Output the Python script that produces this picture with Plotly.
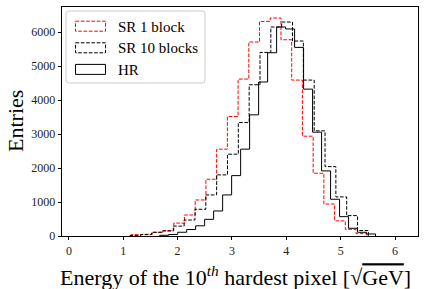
import numpy as np
import plotly.graph_objects as go

# ---------------- data ----------------
series_names = ["SR 1 block", "SR 10 blocks", "HR"]

# SR 1 block: 22 bins between these limits
sr1_range = [1.14, 5.48]
sr1_counts = [40, 50, 110, 160, 380, 618, 1060, 1670, 2554, 3514, 4616,
              5706, 6312, 6412, 5773, 4586, 2936, 1846, 940, 445, 197, 70]

# SR 10 blocks: 22 bins between these limits
sr10_range = [1.123, 5.51]
sr10_counts = [15, 40, 109, 147, 290, 470, 786, 1208, 1797, 2406, 3337,
               4448, 5400, 6147, 6294, 5735, 4586, 3093, 2041, 1150, 600, 160]

# HR: 24 bins between these limits
hr_range = [1.67, 5.642]
hr_counts = [20, 45, 110, 190, 300, 490, 736, 1208, 1776, 2554, 3564, 4530,
             5390, 6147, 6090, 5548, 4320, 3054, 1915, 1081, 569, 227, 109, 60]

x_ticks = [0, 1, 2, 3, 4, 5, 6]
y_ticks = [0, 1000, 2000, 3000, 4000, 5000, 6000]

x_title = ("Energy of the 10<sup><i>th</i></sup> hardest pixel "
           "[√<span style='text-decoration:overline'>GeV</span>]")
y_title = "Entries"

# ---------------- styling ----------------
W, H = 425, 289
ML, MR, MT, MB = 62, 7, 7, 53
PW, PH = W - ML - MR, H - MT - MB
FONT = "Liberation Serif"
DASH = "3.7px,1.6px"

styles = [
    dict(color="#ff0000", dash=DASH),
    dict(color="#000000", dash=DASH),
    dict(color="#000000", dash="solid"),
]


def step_xy(rng, counts):
    edges = np.linspace(rng[0], rng[1], len(counts) + 1)
    xs = [edges[0]] + list(edges[:-1]) + [edges[-1]]
    ys = [0] + list(counts) + [0]
    return xs, ys


fig = go.Figure()
for name, rng, counts, st in zip(series_names,
                                 [sr1_range, sr10_range, hr_range],
                                 [sr1_counts, sr10_counts, hr_counts],
                                 styles):
    xs, ys = step_xy(rng, counts)
    fig.add_trace(go.Scatter(
        x=xs, y=ys, mode="lines", name=name, showlegend=False,
        line=dict(shape="hv", color=st["color"], dash=st["dash"], width=1),
    ))


# ---------------- custom legend (matplotlib-like patch handles) ----------------
def px_x(p):
    return (p - ML) / PW


def px_y(p):
    return 1 - (p - MT) / PH


shapes = []
fx0, fx1, fy0, fy1, r = 66, 205, 11, 83, 3
path = (f"M{px_x(fx0 + r)},{px_y(fy0)} L{px_x(fx1 - r)},{px_y(fy0)} "
        f"Q{px_x(fx1)},{px_y(fy0)} {px_x(fx1)},{px_y(fy0 + r)} "
        f"L{px_x(fx1)},{px_y(fy1 - r)} "
        f"Q{px_x(fx1)},{px_y(fy1)} {px_x(fx1 - r)},{px_y(fy1)} "
        f"L{px_x(fx0 + r)},{px_y(fy1)} "
        f"Q{px_x(fx0)},{px_y(fy1)} {px_x(fx0)},{px_y(fy1 - r)} "
        f"L{px_x(fx0)},{px_y(fy0 + r)} "
        f"Q{px_x(fx0)},{px_y(fy0)} {px_x(fx0 + r)},{px_y(fy0)} Z")
shapes.append(dict(type="path", xref="paper", yref="paper", path=path,
                   line=dict(color="#cccccc", width=1),
                   fillcolor="rgba(255,255,255,0.8)", layer="above"))

rows = [26.2, 47.8, 69.4]
annotations = []
for name, st, yc in zip(series_names, styles, rows):
    shapes.append(dict(type="rect", xref="paper", yref="paper",
                       x0=px_x(75.5), x1=px_x(105.5),
                       y0=px_y(yc - 5), y1=px_y(yc + 5),
                       line=dict(color=st["color"], width=1, dash=st["dash"]),
                       fillcolor="rgba(0,0,0,0)", layer="above"))
    annotations.append(dict(text=name, xref="paper", yref="paper",
                            x=px_x(116), y=px_y(yc + 0.5), xanchor="left",
                            yanchor="middle", showarrow=False,
                            font=dict(family=FONT, size=15, color="#000")))

# axis titles
annotations.append(dict(text=x_title, xref="paper", yref="paper",
                        x=px_x(235.5), y=px_y(275.5), xanchor="center",
                        yanchor="middle", showarrow=False,
                        font=dict(family=FONT, size=22, color="#000")))
annotations.append(dict(text=y_title, xref="paper", yref="paper",
                        x=px_x(15), y=px_y(121), xanchor="center",
                        yanchor="middle", showarrow=False, textangle=-90,
                        font=dict(family=FONT, size=22, color="#000")))

axis_common = dict(
    showline=True, mirror=True, linecolor="#000", linewidth=0.8,
    ticks="outside", ticklen=3.5, tickwidth=0.8, tickcolor="#000",
    showgrid=False, zeroline=False, automargin=False,
    tickfont=dict(family=FONT, size=12, color="#222"),
)

fig.update_layout(
    width=W, height=H,
    margin=dict(l=ML, r=MR, t=MT, b=MB, pad=0),
    paper_bgcolor="white", plot_bgcolor="white",
    shapes=shapes, annotations=annotations,
    xaxis=dict(axis_common, range=[-0.127, 6.423], tickvals=x_ticks,
               ticktext=[str(v) for v in x_ticks]),
    yaxis=dict(axis_common, range=[0, 6736], tickvals=y_ticks,
               ticktext=[str(v) for v in y_ticks]),
)

fig.write_html("out.html",
               config={"displayModeBar": False},
               post_script="document.body.style.margin='0px';"
                           "document.body.style.overflow='hidden';")
